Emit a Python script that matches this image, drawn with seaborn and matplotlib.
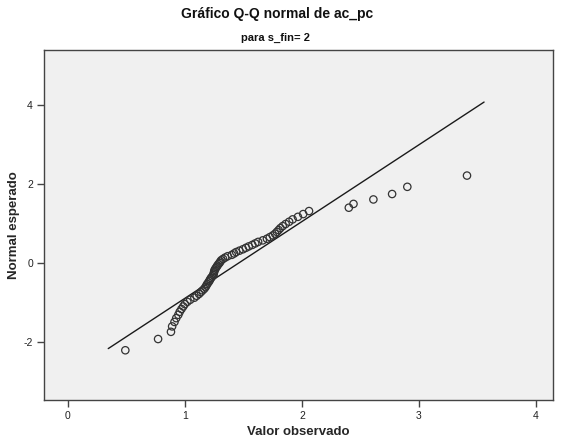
import numpy as np
import pandas as pd
import matplotlib
matplotlib.use("Agg")
import matplotlib.pyplot as plt
import seaborn as sns
from statistics import NormalDist

# Observed values of ac_pc for s_fin = 2, sorted ascending
observed = [
    0.49, 0.77, 0.88, 0.89, 0.91, 0.925, 0.943, 0.955, 0.97, 0.985,
    0.998, 1.02, 1.045, 1.08, 1.10, 1.12, 1.135, 1.15, 1.165, 1.175,
    1.183, 1.19, 1.20, 1.208, 1.215, 1.222, 1.232, 1.242, 1.245, 1.248,
    1.25, 1.255, 1.262, 1.27, 1.277, 1.285, 1.295, 1.302, 1.31, 1.325,
    1.343, 1.365, 1.40, 1.42, 1.437, 1.465, 1.495, 1.52, 1.545, 1.575,
    1.60, 1.625, 1.665, 1.70, 1.725, 1.75, 1.77, 1.785, 1.80, 1.815,
    1.835, 1.86, 1.89, 1.92, 1.965, 2.01, 2.06,
    2.40, 2.44, 2.61, 2.77, 2.90, 3.41,
]

title = "Gráfico Q-Q normal de ac_pc"
subtitle = "para s_fin= 2"
x_label = "Valor observado"
y_label = "Normal esperado"
x_ticks = [0, 1, 2, 3, 4]
y_ticks = [-2, 0, 2, 4]

# Expected normal scores (rank / (n + 1))
x = np.sort(np.array(observed))
n = len(x)
nd = NormalDist()
expected = [nd.inv_cdf(r / (n + 1)) for r in range(1, n + 1)]
points = pd.DataFrame({"observed": x, "expected": expected})

# Reference line: standardised observed values
mu, sd = x.mean(), x.std(ddof=1)
pad = 0.05 * (x.max() - x.min())
lx = np.array([x.min() - pad, x.max() + pad])
ref = pd.DataFrame({"observed": lx, "expected": (lx - mu) / sd})

sns.set_style("white")
plt.rcParams["font.family"] = ["Liberation Sans", "DejaVu Sans"]

fig = plt.figure(figsize=(5.63, 4.42), dpi=100)
ax = fig.add_axes([44 / 563, 1 - 400 / 442, (553 - 44) / 563, (400 - 50) / 442])
ax.set_facecolor("#f0f0f0")

sns.lineplot(data=ref, x="observed", y="expected", ax=ax, color="#1a1a1a",
             linewidth=1.0, sort=False)
sns.scatterplot(data=points, x="observed", y="expected", ax=ax, s=28,
                facecolor="none", edgecolor="#333333", linewidth=0.9,
                marker="o", zorder=3)

ax.set_xlim(-0.205, 4.145)
ax.set_ylim(-3.47, 5.39)
ax.set_xticks(x_ticks)
ax.set_yticks(y_ticks)
ax.set_xticklabels([str(t) for t in x_ticks])
ax.set_yticklabels([str(t) for t in y_ticks])
ax.tick_params(axis="both", which="major", direction="out", length=5,
               width=1, color="#444444", labelsize=7.5, labelcolor="#222222",
               pad=3, bottom=True, left=True)

for side in ax.spines.values():
    side.set_color("#444444")
    side.set_linewidth(1.0)

label_family = ["Liberation Sans Narrow", "Liberation Sans"]
ax.set_xlabel(x_label, fontsize=9.5, fontweight="bold", family=label_family)
ax.set_ylabel(y_label, fontsize=9.5, fontweight="bold", family=label_family)
ax.xaxis.set_label_coords(0.5, (400 - 432) / 350)
ax.yaxis.set_label_coords((14 - 44) / 509, 0.5)
ax.xaxis.label.set_va("center")
ax.yaxis.label.set_va("center")

fig.text(0.492, 1 - 14 / 442, title, ha="center", va="center",
         fontsize=10, fontweight="bold", color="#111111")
fig.text(0.49, 1 - 38 / 442, subtitle, ha="center", va="center",
         fontsize=8, fontweight="bold", color="#111111", family=label_family)

fig.savefig("out.png", dpi=100, facecolor="white")
